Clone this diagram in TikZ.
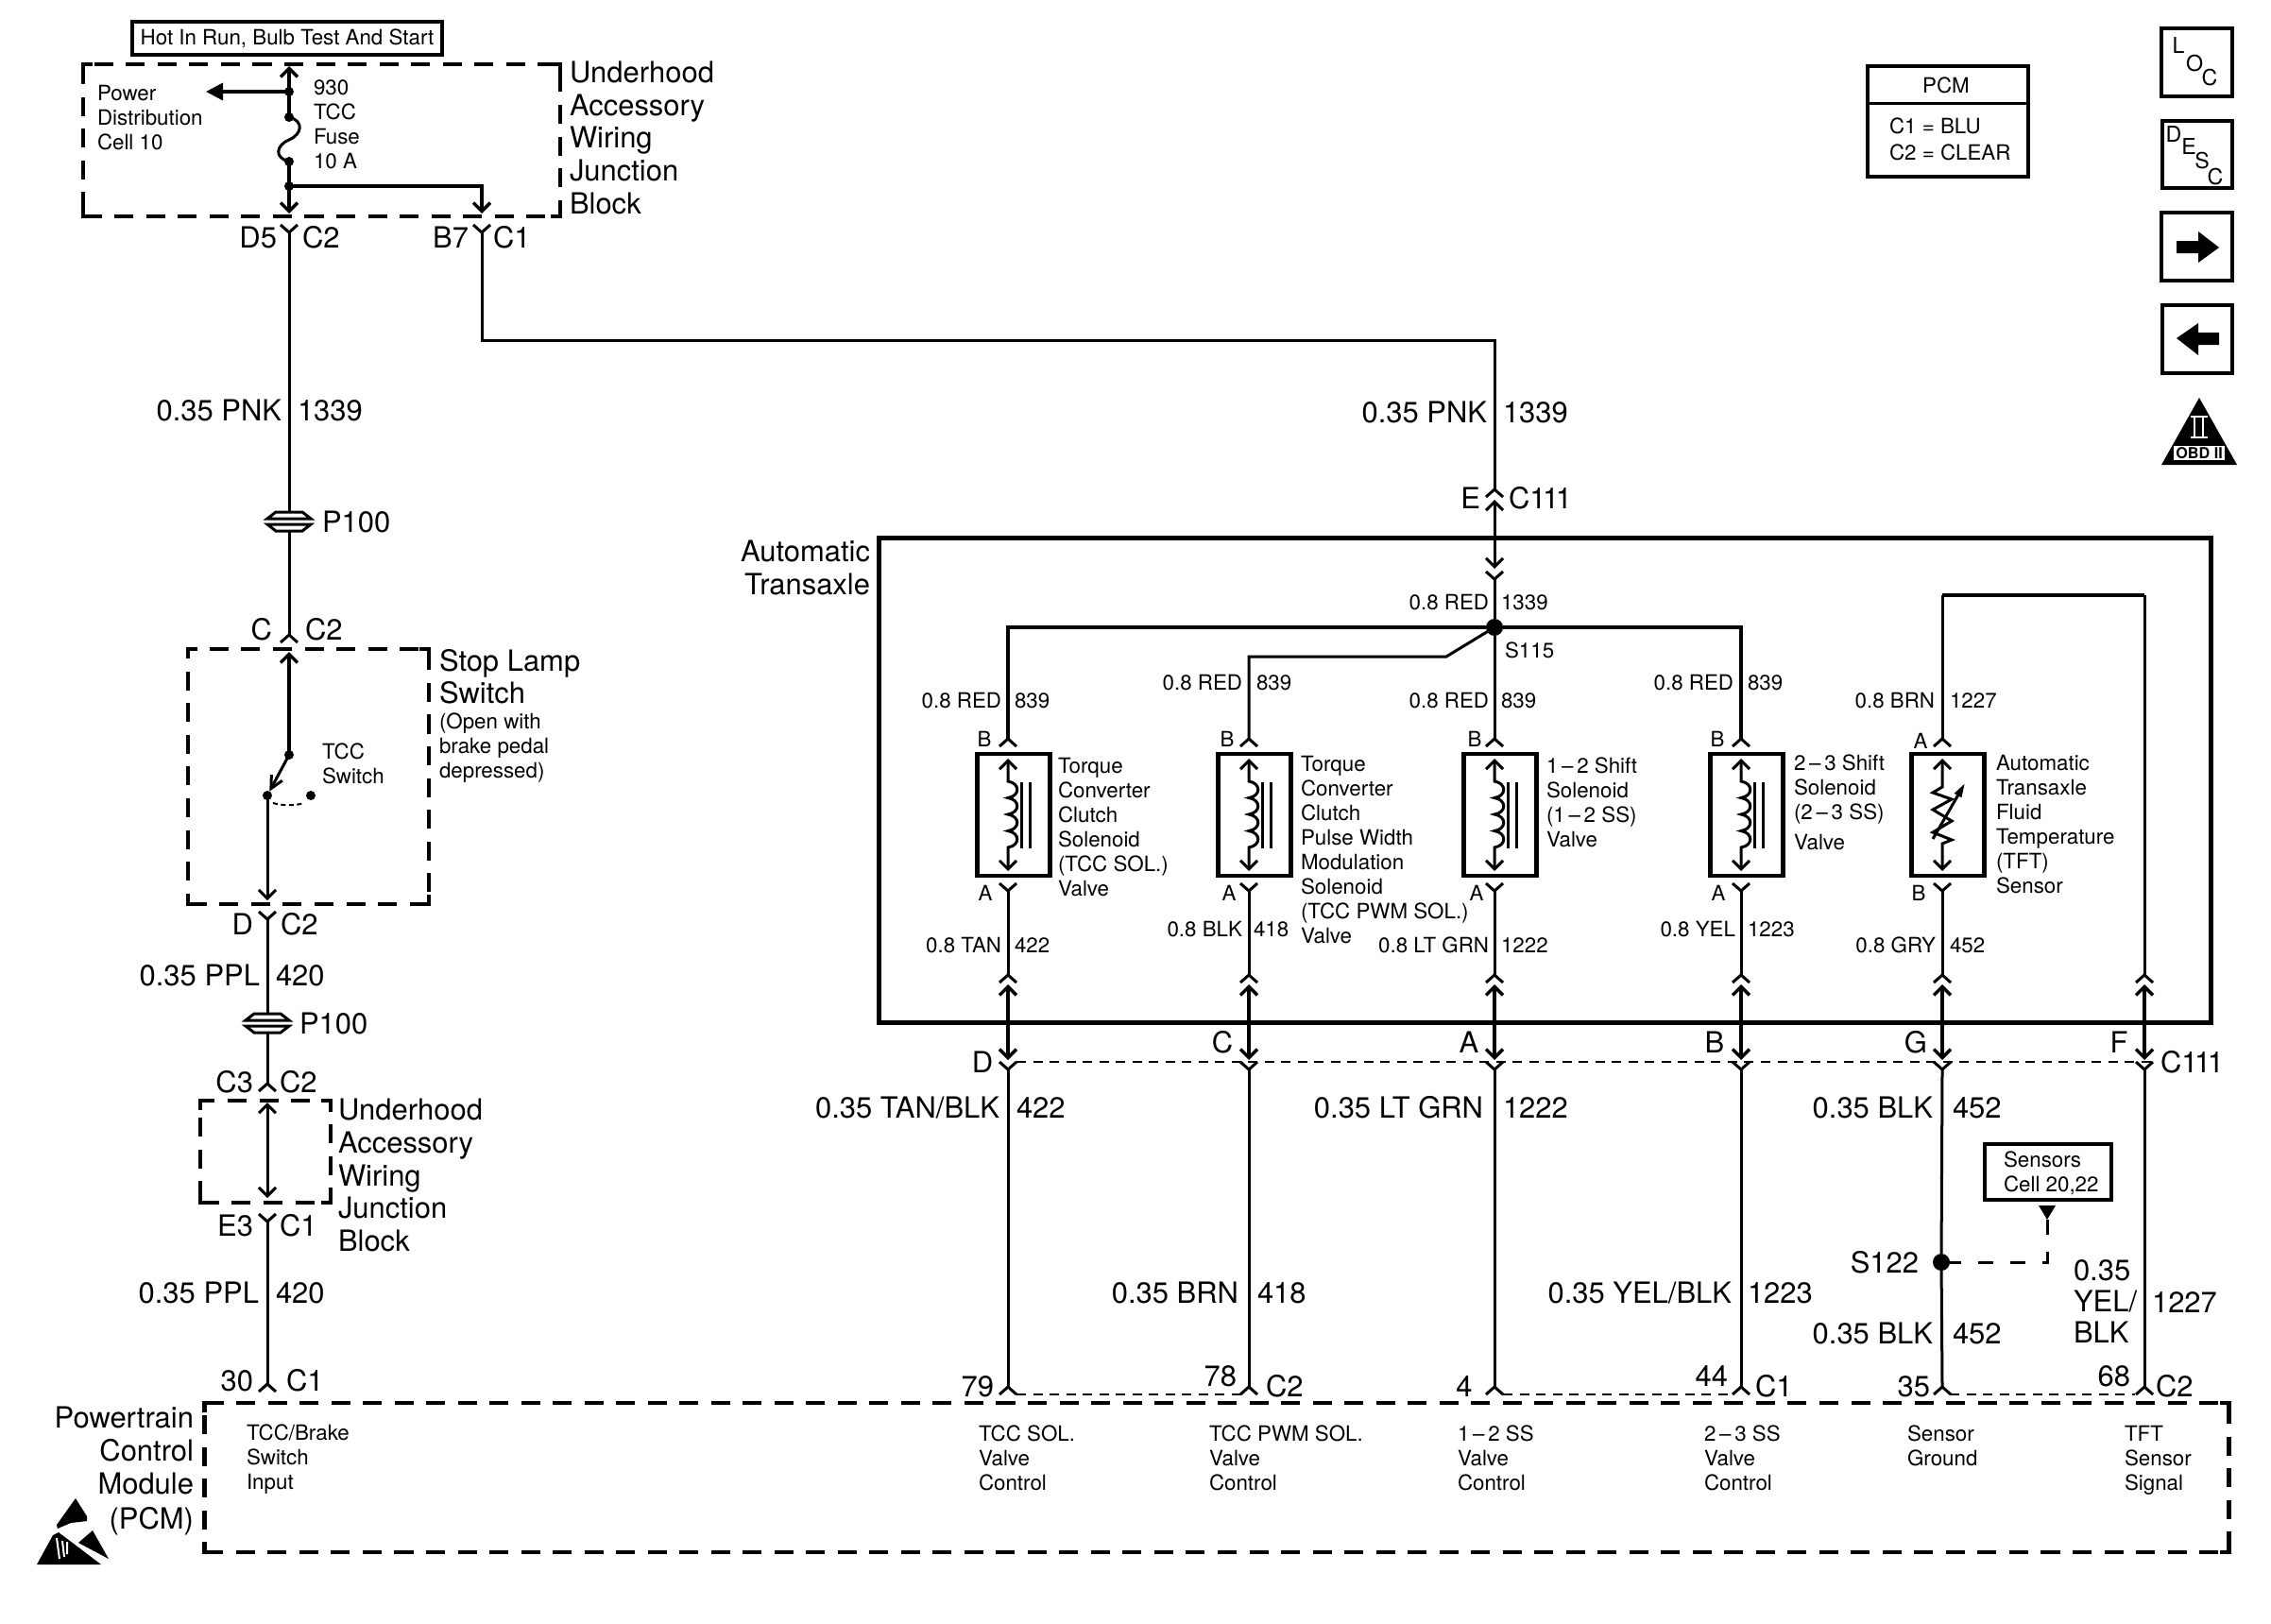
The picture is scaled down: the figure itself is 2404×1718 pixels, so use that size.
\documentclass[tikz,border=0pt]{standalone}
\usepackage{fontspec}
\setmainfont{TeX Gyre Heros}
\usetikzlibrary{arrows.meta}
\tikzset{
  wire/.style={line width=0.03cm},
  heavy/.style={line width=0.034cm},
  hairdash/.style={line width=0.025cm, dash pattern=on 0.1cm off 0.075cm},
  dashbox/.style={draw, line width=0.045cm, dash pattern=on 0.2cm off 0.135cm, inner sep=0pt, outer sep=0pt},
  corner/.style={line width=0.045cm},
  solidbox/.style={draw, line width=0.045cm, inner sep=0pt, outer sep=0pt},
  joint/.style={circle, fill, inner sep=0pt, outer sep=0pt, minimum size=0.1cm},
  bigjoint/.style={circle, fill, inner sep=0pt, outer sep=0pt, minimum size=0.18cm},
  smalltxt/.style={font=\fontsize{6.35}{7.4}\selectfont, inner sep=0pt, outer sep=0pt},
  bigtxt/.style={font=\fontsize{8.8}{9.87}\selectfont, inner sep=0pt, outer sep=0pt},
  smalltag/.style={smalltxt, text height=0.16cm, text depth=0pt},
  bigtag/.style={bigtxt, text height=0.22cm, text depth=0pt},
  icontxt/.style={font=\fontsize{6.6}{7.4}\selectfont, inner sep=0pt, outer sep=0pt}
}
\newcommand{\cxi}{C1\kern-0.035cm 1\kern-0.035cm 1}
% connector halves, apex at the named point
\newcommand{\conup}[1] {\draw [wire] (#1) ++(-9,8) -- (#1) -- ++(9,8);}
\newcommand{\condown}[1] {\draw [wire] (#1) ++(-9,-8) -- (#1) -- ++(9,-8);}
\newcommand{\wiretag}[7][smalltag] {\node at (#3,#5) (#2l) [#1, anchor=east] {#6};
\node at (#4,#5) (#2r) [#1, anchor=west] {#7};}
\newcommand{\pintag}[4] {\node at (#2,#3) (#1) [bigtag, anchor=east] {#4};}
\newcommand{\pinname}[4] {\node at (#2,#3) (#1) [bigtag, anchor=west] {#4};}
\newcommand{\notetext}[4][smalltxt] {\node at (#3) (#2) [#1, anchor=north west, align=left] {#4};}
\newcommand{\dashblock}[4] {
\node at (#1) (#2) [dashbox, minimum width=#3cm, minimum height=#4cm] {};
\draw [corner] (#2.north west) ++(0,10) -- ++(0,-10) -- ++(10,0);
\draw [corner] (#2.north east) ++(0,10) -- ++(0,-10) -- ++(-10,0);
\draw [corner] (#2.south west) ++(0,-10) -- ++(0,10) -- ++(10,0);
\draw [corner] (#2.south east) ++(0,-10) -- ++(0,10) -- ++(-10,0);
}
\newcommand{\grommet}[2] {
\coordinate (#2) at (#1);
\coordinate (#2t) at ([yshift=0.1cm]#2);
\coordinate (#2b) at ([yshift=-0.1cm]#2);
\draw [wire] (#2t) ++(-14,0) -- ++(28,0) -- ++(9,7) -- ++(-46,0) -- cycle;
\draw [wire] (#2b) ++(-14,0) -- ++(28,0) -- ++(9,-7) -- ++(-46,0) -- cycle;
}
% one run through C111 down to the PCM
\newcommand{\harness}[2] {
\coordinate (#2in) at (#1,1032);
\coordinate (#2up) at (#1,1042);
\coordinate (#2dn) at (#1,1122);
\coordinate (#2fk) at (#1,1132);
\coordinate (#2pn) at (#1,1468);
\conup{#2in};
\draw [<->, heavy] (#2up) -- (#2dn);
\condown{#2fk};
\conup{#2pn};
}
\newcommand{\solenoidframe}[2] {
\node at (#1+6,862.5) (#2box) [solidbox, minimum width=0.77cm, minimum height=1.29cm] {};
\coordinate (#2top) at (#1,782);
\coordinate (#2low) at (#1,943);
\coordinate (#2t) at (#1,803);
\coordinate (#2b) at (#1,922);
\coordinate (#2c) at (#1,827);
\conup{#2top};
\condown{#2low};
}
\newcommand{\solenoid}[2] {
\solenoidframe{#1}{#2}
\draw [<->, wire] (#2t) -- (#2c)
  .. controls +(13,2) and +(13,-2) .. ++(0,17.5)
  .. controls +(13,2) and +(13,-2) .. ++(0,17.5)
  .. controls +(13,2) and +(13,-2) .. ++(0,17.5)
  .. controls +(13,2) and +(13,-2) .. ++(0,17.5) -- (#2b);
\draw [wire] (#2c) ++(14,1) -- ++(0,70) (#2c) ++(23,1) -- ++(0,70);
}

\begin{document}
\begin{tikzpicture}[x=0.01cm, y=-0.01cm, >={Straight Barb[length=0.09cm,width=0.18cm]}]
\useasboundingbox (0,0) rectangle (2404,1718);

% underhood block at the top
\node at (304,40.5) (hot) [solidbox, smalltxt, minimum width=3.28cm, minimum height=0.35cm] {Hot In Run, Bulb Test And Start};
\dashblock {340.5,148.5} {fuseblock} {5.05} {1.61};
\notetext[bigtxt] {upperblocktext} {603,65} {Underhood\\Accessory\\Wiring\\Junction\\Block};
\notetext {celltext} {103,90} {Power\\Distribution\\Cell 10};
\notetext {fusetext} {332,85} {930\\TCC\\Fuse\\10 A};

\coordinate (fusein) at (306,70);
\node at (306,97) (feed) [joint] {};
\node at (306,124) (fusea) [joint] {};
\node at (306,171) (fuseb) [joint] {};
\node at (306,197) (branch) [joint] {};
\coordinate (celltip) at (218,97);
\coordinate (d5tip) at (306,226);
\coordinate (b7tip) at (510,226);
\coordinate (d5) at (306,246);
\coordinate (b7) at (510,246);
\draw [<-, heavy] (fusein) -- (feed.center);
\draw [-{Triangle[length=0.18cm,width=0.18cm]}, heavy] (feed.center) -- (celltip);
\draw [heavy] (feed.center) -- (fusea.center);
\draw [wire] (fusea.center) .. controls +(16,4) and +(14,-6) .. (306,148) .. controls +(-14,6) and +(-16,-4) .. (fuseb.center);
\draw [heavy] (fuseb.center) -- (branch.center);
\draw [->, heavy] (branch.center) -- (d5tip);
\draw [->, heavy] (branch.center) -| (b7tip);
\condown{d5};
\condown{b7};
\pintag {d5tag} {293} {251} {D5};
\pinname {d5c} {320} {251} {C2};
\pintag {b7tag} {496} {251} {B7};
\pinname {b7c} {522} {251} {C1};

% left hand run down to the switch
\wiretag[bigtag] {pnka} {298} {315} {434} {0.35 PNK} {1339};
\grommet {306,552} {pone};
\pinname {ponetext} {341} {552} {P100};
\coordinate (cfork) at (306,672);
\draw [wire] (d5) -- (ponet);
\draw [wire] (poneb) -- (cfork);
\conup{cfork};
\pintag {ctag} {288} {666} {C};
\pinname {cc} {323} {666} {C2};

\dashblock {326.5,822} {switchblock} {2.55} {2.70};
\notetext[bigtxt] {switchname} {465,687} {Stop Lamp\\Switch};
\notetext {switchnote} {465,755} {(Open with\\brake pedal\\depressed)};
\notetext {tcctext} {341,787} {TCC\\Switch};
\coordinate (swtip) at (306,690);
\node at (306,799) (swpivot) [joint] {};
\node at (283,842) (swclosed) [joint] {};
\node at (329,842) (swopen) [joint] {};
\coordinate (swlow) at (283,953);
\coordinate (dfork) at (283,973);
\draw [<-, heavy] (swtip) -- (swpivot.center);
\draw [-{Straight Barb[length=0.13cm,width=0.13cm]}, wire] (swpivot.center) -- (swclosed);
\draw [wire, ->] (swclosed.center) -- (swlow);
\draw [line width=0.02cm, dash pattern=on 0.05cm off 0.035cm] (289,850) .. controls (300,853) and (312,853) .. (322,850);
\condown{dfork};
\pintag {dtag} {268} {978} {D};
\pinname {dc} {297} {978} {C2};

\wiretag[bigtag] {ppla} {275} {292} {1032} {0.35 PPL} {420};
\grommet {283,1083} {ptwo};
\pinname {ptwotext} {317} {1083} {P100};
\coordinate (c3fork) at (283,1147);
\draw [wire] (dfork) -- (ptwot);
\draw [wire] (ptwob) -- (c3fork);
\conup{c3fork};
\pintag {c3tag} {268} {1145} {C3};
\pinname {c3c} {296} {1145} {C2};

\dashblock {281,1219} {lowerblock} {1.38} {1.08};
\notetext[bigtxt] {lowerblocktext} {358,1163} {Underhood\\Accessory\\Wiring\\Junction\\Block};
\coordinate (lowup) at (283,1167);
\coordinate (lowdn) at (283,1268);
\coordinate (e3fork) at (283,1293);
\coordinate (thirty) at (283,1465);
\draw [<->, wire] (lowup) -- (lowdn);
\condown{e3fork};
\draw [wire] (e3fork) -- (thirty);
\conup{thirty};
\pintag {e3tag} {268} {1297} {E3};
\pinname {e3c} {296} {1297} {C1};
\wiretag[bigtag] {pplb} {274} {292} {1368} {0.35 PPL} {420};
\pintag {thirtytag} {268} {1461} {30};
\pinname {thirtyc} {303} {1461} {C1};

% feed across to the transaxle
\coordinate (b7bend) at (510,360);
\coordinate (ebend) at (1582,360);
\coordinate (efork) at (1582,518);
\coordinate (eup) at (1582,529);
\coordinate (edn) at (1582,602);
\coordinate (einner) at (1582,613);
\draw [wire] (b7) -- (b7bend) -- (ebend) -- (efork);
\conup{efork};
\draw [<->, wire] (eup) -- (edn);
\condown{einner};
\wiretag[bigtag] {pnkb} {1574} {1591} {436} {0.35 PNK} {1339};
\pintag {etag} {1567} {527} {E};
\pinname {ec} {1597} {527} {\cxi};

% transaxle
\node at (1635.5,826) (transaxle) [draw, line width=0.05cm, inner sep=0pt, outer sep=0pt, minimum width=14.1cm, minimum height=5.12cm] {};
\pintag {transaxletext} {921} {583} {Automatic};
\pintag {transaxletextb} {921} {618} {Transaxle};

\node at (1582,664) (s115) [bigjoint] {};
\node at (1593,688) (s115text) [smalltag, anchor=west] {S115};
\wiretag {redin} {1576} {1589} {637} {0.8 RED} {1339};
\draw [wire] (einner) -- (s115);

\solenoid {1067} {tcc};
\solenoid {1322} {pwm};
\solenoid {1582} {oneb};
\solenoid {1843} {twoc};
\solenoidframe {2056} {tft};
\draw [<->, wire] (tftt) -- (2056,833) -- (2046,839) -- (2066,846) -- (2046,857) -- (2066,869) -- (2046,881) -- (2066,889) -- (2056,893) -- (tftb);
\draw [-{Triangle[length=0.15cm,width=0.08cm]}, wire] (2046,888) -- (2080,829);

\coordinate (pwmkink) at (1531,695);
\draw [heavy] (s115) -| (tcctop);
\draw [heavy] (s115) -| (twoctop);
\draw [wire] (s115) -- (pwmkink) -| (pwmtop);
\draw [wire] (s115) -- (onebtop);

\wiretag {reda} {1060} {1074} {741} {0.8 RED} {839};
\wiretag {redb} {1315} {1330} {722} {0.8 RED} {839};
\wiretag {redc} {1576} {1589} {741} {0.8 RED} {839};
\wiretag {redd} {1835} {1850} {722} {0.8 RED} {839};
\wiretag {brn} {2048} {2064} {741} {0.8 BRN} {1227};

\node at (1042,782) (tccpb) [smalltag] {B};
\node at (1299,782) (pwmpb) [smalltag] {B};
\node at (1561,782) (onebpb) [smalltag] {B};
\node at (1818,782) (twocpb) [smalltag] {B};
\node at (2033,784) (tftpa) [smalltag] {A};
\node at (1043,945) (tccpa) [smalltag] {A};
\node at (1301,945) (pwmpa) [smalltag] {A};
\node at (1563,945) (onebpa) [smalltag] {A};
\node at (1819,945) (twocpa) [smalltag] {A};
\node at (2031,945) (tftpb) [smalltag] {B};

\notetext {tcctextb} {1120,802} {Torque\\Converter\\Clutch\\Solenoid\\(TCC SOL.)\\Valve};
\notetext {pwmtext} {1377,800} {Torque\\Converter\\Clutch\\Pulse Width\\Modulation\\Solenoid\\(TCC PWM SOL.)\\Valve};
\notetext {onebtext} {1637,802} {1\,–\,2 Shift\\Solenoid\\(1\,–\,2 SS)\\Valve};
\notetext {twoctext} {1899,799} {2\,–\,3 Shift\\Solenoid\\(2\,–\,3 SS)\\[0.06cm]Valve};
\notetext {tfttext} {2113,799} {Automatic\\Transaxle\\Fluid\\Temperature\\(TFT)\\Sensor};

\wiretag {tan} {1060} {1074} {1000} {0.8 TAN} {422};
\wiretag {blk} {1315} {1327} {983} {0.8 BLK} {418};
\wiretag {grn} {1576} {1589} {1000} {0.8 LT GRN} {1222};
\wiretag {yel} {1837} {1850} {983} {0.8 YEL} {1223};
\wiretag {gry} {2049} {2064} {1000} {0.8 GRY} {452};

% runs through C111
\harness {1067} {d};
\harness {1322} {c};
\harness {1582} {a};
\harness {1843} {b};
\harness {2056} {g};
\harness {2270} {f};
\coordinate (tftcorner) at (2056,630);
\coordinate (fcorner) at (2270,630);
\draw [wire] (tcclow) -- (din);
\draw [wire] (pwmlow) -- (cin);
\draw [wire] (oneblow) -- (ain);
\draw [wire] (twoclow) -- (bin);
\draw [wire] (tftlow) -- (gin);
\draw [wire] (tfttop) -- (tftcorner);
\draw [heavy] (tftcorner) -- (fcorner);
\draw [wire] (fcorner) -- (fin);
\draw [wire] (dfk) -- (dpn);
\draw [wire] (cfk) -- (cpn);
\draw [wire] (afk) -- (apn);
\draw [wire] (bfk) -- (bpn);
\draw [wire] (ffk) -- (fpn);

\coordinate (cavleft) at (1076,1124);
\coordinate (cavright) at (2279,1124);
\draw [hairdash] (cavleft) -- (cavright);
\coordinate (dashaa) at (1076,1476);
\coordinate (dashab) at (1313,1476);
\coordinate (dashba) at (1591,1476);
\coordinate (dashbb) at (1833,1476);
\coordinate (dashca) at (2064,1476);
\coordinate (dashcb) at (2260,1476);
\draw [hairdash] (dashaa) -- (dashab);
\draw [hairdash] (dashba) -- (dashbb);
\draw [hairdash] (dashca) -- (dashcb);

\node at (1040,1124) (dlet) [bigtag] {D};
\node at (1294,1103) (clet) [bigtag] {C};
\node at (1555,1103) (alet) [bigtag] {A};
\node at (1815,1103) (blet) [bigtag] {B};
\node at (2028,1103) (glet) [bigtag] {G};
\node at (2243,1103) (flet) [bigtag] {F};
\pinname {cavname} {2287} {1124} {\cxi};

\wiretag[bigtag] {tanb} {1058} {1076} {1172} {0.35 TAN/BLK} {422};
\wiretag[bigtag] {grnb} {1570} {1591} {1172} {0.35 LT GRN} {1222};
\wiretag[bigtag] {blka} {2046} {2067} {1172} {0.35 BLK} {452};
\wiretag[bigtag] {brnb} {1311} {1331} {1368} {0.35 BRN} {418};
\wiretag[bigtag] {yelb} {1833} {1850} {1368} {0.35 YEL/BLK} {1223};
\wiretag[bigtag] {blkb} {2046} {2067} {1411} {0.35 BLK} {452};
\notetext[bigtxt] {yelc} {2195,1334} {0.35\\[-0.02cm]YEL/\\[-0.02cm]BLK};
\pinname {yelcr} {2278} {1378} {1227};

% splice S122 and its reference
\node at (2055,1336) (s122) [bigjoint] {};
\pintag {s122text} {2031} {1336} {S122};
\draw [wire] (gfk) -- (s122) -- (gpn);
\node at (2168,1240.5) (sensors) [solidbox, minimum width=1.34cm, minimum height=0.59cm] {};
\notetext {sensorstext} {2121,1219} {Sensors\\Cell 20,22};
\coordinate (senstip) at (2167,1291);
\fill (2158,1276) -- (senstip) -- (2176,1276) -- cycle;
\draw [wire, dash pattern=on 0.16cm off 0.18cm] (senstip) |- (s122);

% pins at the PCM
\pintag {p79} {1052} {1467} {79};
\pintag {p78} {1309} {1456} {78};
\pinname {c2a} {1340} {1467} {C2};
\node at (1550,1467) (p4) [bigtag] {4};
\pintag {p44} {1829} {1456} {44};
\pinname {c1b} {1858} {1467} {C1};
\pintag {p35} {2043} {1467} {35};
\pintag {p68} {2255} {1456} {68};
\pinname {c2b} {2282} {1467} {C2};

% PCM
\dashblock {1288,1564} {pcm} {21.42} {1.58};
\pintag {pcmnamea} {205} {1500} {Powertrain};
\pintag {pcmnameb} {205} {1535} {Control};
\pintag {pcmnamec} {205} {1570} {Module};
\pintag {pcmnamed} {205} {1607} {(PCM)};
\notetext {pcmbrake} {261,1508} {TCC/Brake\\Switch\\Input};
\notetext {pcmtcc} {1036,1509} {TCC SOL.\\Valve\\Control};
\notetext {pcmpwm} {1280,1509} {TCC PWM SOL.\\Valve\\Control};
\notetext {pcmone} {1543,1509} {1\,–\,2 SS\\Valve\\Control};
\notetext {pcmtwo} {1804,1509} {2\,–\,3 SS\\Valve\\Control};
\notetext {pcmgnd} {2019,1509} {Sensor\\Ground};
\notetext {pcmtft} {2249,1509} {TFT\\Sensor\\Signal};

% static warning mark
\fill (80,1586) -- (92,1605) -- (92,1610) -- (75,1612) -- (61,1618) -- (60,1614) -- cycle;
\fill (56,1625) -- (39,1656) -- (107,1656) -- (82,1637) -- (62,1622) -- cycle;
\fill (98,1620) -- (115,1650) -- (83,1633) -- cycle;
\draw [white, line width=0.02cm] (60,1628) -- (63,1650) (66,1631) -- (68,1648) (71,1632) -- (71,1645);

% colour table
\node at (2062,128.5) (conntable) [solidbox, minimum width=1.7cm, minimum height=1.17cm] {};
\draw [wire] (conntable.west |- 0,109) -- (conntable.east |- 0,109);
\node at (2060,90) (tabletitle) [smalltag] {PCM};
\node at (2000,133) (tablea) [smalltag, anchor=west] {C1 = BLU};
\node at (2000,161) (tableb) [smalltag, anchor=west] {C2 = CLEAR};

% side icons
\node at (2325.5,66) (locbox) [solidbox, minimum width=0.75cm, minimum height=0.72cm] {};
\node at (2306,48) (locl) [icontxt] {L};
\node at (2323,67) (loco) [icontxt] {O};
\node at (2339,82) (locc) [icontxt] {C};
\node at (2326,163.5) (descbox) [solidbox, minimum width=0.74cm, minimum height=0.71cm] {};
\node at (2301,142) (descd) [icontxt] {D};
\node at (2317,155) (desce) [icontxt] {E};
\node at (2331,170) (descs) [icontxt] {S};
\node at (2345,187) (descc) [icontxt] {C};
\node at (2325.5,261) (nextbox) [solidbox, minimum width=0.75cm, minimum height=0.72cm] {};
\fill (2304,255) -- (2327,255) -- (2327,245) -- (2349,262) -- (2327,278) -- (2327,268) -- (2304,268) -- cycle;
\node at (2326,359) (prevbox) [solidbox, minimum width=0.74cm, minimum height=0.72cm] {};
\fill (2349,352) -- (2327,352) -- (2327,342) -- (2304,358) -- (2327,376) -- (2327,365) -- (2349,365) -- cycle;
\fill (2328,421) -- (2288,492) -- (2368,492) -- cycle;
\node at (2328,479.5) (obd) [fill=white, inner sep=0pt, minimum width=0.54cm, minimum height=0.15cm, font=\fontsize{4.6}{5}\selectfont] {\textbf{OBD II}};
\draw [white, line width=0.02cm] (2319,441) -- (2337,441) (2319,463) -- (2337,463) (2323,441) -- (2323,463) (2332,441) -- (2332,463);
\end{tikzpicture}
\end{document}
